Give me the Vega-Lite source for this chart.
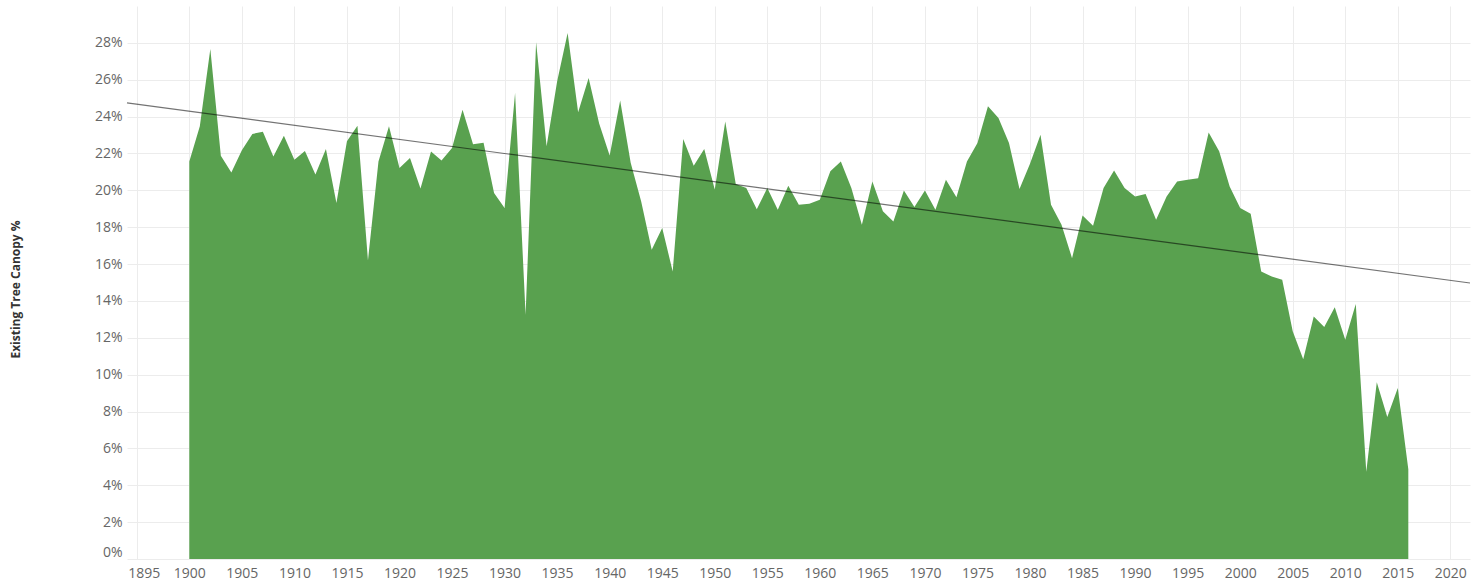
{
  "$schema": "https://vega.github.io/schema/vega-lite/v6.json",
  "width": 1343,
  "height": 553,
  "autosize": {"type": "none"},
  "padding": {"left": 127, "top": 6, "right": 14, "bottom": 24},
  "background": "white",
  "config": {"view": {"stroke": null}, "font": "Open Sans"},
  "data": {
    "values": [
      {"year": 1900, "canopy": 0.2157}, {"year": 1901, "canopy": 0.2347}, {"year": 1902, "canopy": 0.2767},
      {"year": 1903, "canopy": 0.2188}, {"year": 1904, "canopy": 0.2097}, {"year": 1905, "canopy": 0.2217},
      {"year": 1906, "canopy": 0.2306}, {"year": 1907, "canopy": 0.2318}, {"year": 1908, "canopy": 0.2184},
      {"year": 1909, "canopy": 0.2296}, {"year": 1910, "canopy": 0.2166}, {"year": 1911, "canopy": 0.2213},
      {"year": 1912, "canopy": 0.2086}, {"year": 1913, "canopy": 0.2224}, {"year": 1914, "canopy": 0.1931},
      {"year": 1915, "canopy": 0.2266}, {"year": 1916, "canopy": 0.2351}, {"year": 1917, "canopy": 0.162},
      {"year": 1918, "canopy": 0.2157}, {"year": 1919, "canopy": 0.2347}, {"year": 1920, "canopy": 0.2121},
      {"year": 1921, "canopy": 0.2175}, {"year": 1922, "canopy": 0.201}, {"year": 1923, "canopy": 0.2211},
      {"year": 1924, "canopy": 0.2162}, {"year": 1925, "canopy": 0.223}, {"year": 1926, "canopy": 0.2437},
      {"year": 1927, "canopy": 0.225}, {"year": 1928, "canopy": 0.2258}, {"year": 1929, "canopy": 0.1985},
      {"year": 1930, "canopy": 0.1904}, {"year": 1931, "canopy": 0.2528}, {"year": 1932, "canopy": 0.1325},
      {"year": 1933, "canopy": 0.2803}, {"year": 1934, "canopy": 0.2239}, {"year": 1935, "canopy": 0.2591},
      {"year": 1936, "canopy": 0.2854}, {"year": 1937, "canopy": 0.2423}, {"year": 1938, "canopy": 0.261},
      {"year": 1939, "canopy": 0.2362}, {"year": 1940, "canopy": 0.2189}, {"year": 1941, "canopy": 0.2488},
      {"year": 1942, "canopy": 0.215}, {"year": 1943, "canopy": 0.194}, {"year": 1944, "canopy": 0.1678},
      {"year": 1945, "canopy": 0.1795}, {"year": 1946, "canopy": 0.156}, {"year": 1947, "canopy": 0.2278},
      {"year": 1948, "canopy": 0.2133}, {"year": 1949, "canopy": 0.2224}, {"year": 1950, "canopy": 0.2005},
      {"year": 1951, "canopy": 0.2374}, {"year": 1952, "canopy": 0.2035}, {"year": 1953, "canopy": 0.2012},
      {"year": 1954, "canopy": 0.1898}, {"year": 1955, "canopy": 0.2012}, {"year": 1956, "canopy": 0.1895},
      {"year": 1957, "canopy": 0.2025}, {"year": 1958, "canopy": 0.1922}, {"year": 1959, "canopy": 0.1927},
      {"year": 1960, "canopy": 0.1949}, {"year": 1961, "canopy": 0.2103}, {"year": 1962, "canopy": 0.2157},
      {"year": 1963, "canopy": 0.2012}, {"year": 1964, "canopy": 0.1813}, {"year": 1965, "canopy": 0.2048},
      {"year": 1966, "canopy": 0.1886}, {"year": 1967, "canopy": 0.1831}, {"year": 1968, "canopy": 0.1999},
      {"year": 1969, "canopy": 0.1909}, {"year": 1970, "canopy": 0.1999}, {"year": 1971, "canopy": 0.1895},
      {"year": 1972, "canopy": 0.2058}, {"year": 1973, "canopy": 0.1962}, {"year": 1974, "canopy": 0.2157},
      {"year": 1975, "canopy": 0.2257}, {"year": 1976, "canopy": 0.2456}, {"year": 1977, "canopy": 0.2393},
      {"year": 1978, "canopy": 0.2257}, {"year": 1979, "canopy": 0.2007}, {"year": 1980, "canopy": 0.2144},
      {"year": 1981, "canopy": 0.2302}, {"year": 1982, "canopy": 0.1922}, {"year": 1983, "canopy": 0.1813},
      {"year": 1984, "canopy": 0.1632}, {"year": 1985, "canopy": 0.1864}, {"year": 1986, "canopy": 0.1808},
      {"year": 1987, "canopy": 0.2012}, {"year": 1988, "canopy": 0.2108}, {"year": 1989, "canopy": 0.2012},
      {"year": 1990, "canopy": 0.1967}, {"year": 1991, "canopy": 0.198}, {"year": 1992, "canopy": 0.184},
      {"year": 1993, "canopy": 0.1967}, {"year": 1994, "canopy": 0.2048}, {"year": 1995, "canopy": 0.2057},
      {"year": 1996, "canopy": 0.2066}, {"year": 1997, "canopy": 0.2314}, {"year": 1998, "canopy": 0.2212},
      {"year": 1999, "canopy": 0.2021}, {"year": 2000, "canopy": 0.1904}, {"year": 2001, "canopy": 0.1873},
      {"year": 2002, "canopy": 0.156}, {"year": 2003, "canopy": 0.1533}, {"year": 2004, "canopy": 0.1515},
      {"year": 2005, "canopy": 0.1235}, {"year": 2006, "canopy": 0.1084}, {"year": 2007, "canopy": 0.1315},
      {"year": 2008, "canopy": 0.1258}, {"year": 2009, "canopy": 0.1366}, {"year": 2010, "canopy": 0.1189},
      {"year": 2011, "canopy": 0.1384}, {"year": 2012, "canopy": 0.0473}, {"year": 2013, "canopy": 0.0959},
      {"year": 2014, "canopy": 0.0771}, {"year": 2015, "canopy": 0.0928}, {"year": 2016, "canopy": 0.0487}
    ]
  },
  "encoding": {
    "x": {
      "field": "year",
      "type": "quantitative",
      "scale": {"domain": [1894.07, 2021.87], "nice": false, "zero": false},
      "axis": {
        "title": null,
        "values": [1895, 1900, 1905, 1910, 1915, 1920, 1925, 1930, 1935, 1940, 1945, 1950, 1955, 1960, 1965, 1970, 1975, 1980, 1985, 1990, 1995, 2000, 2005, 2010, 2015, 2020],
        "format": "d",
        "grid": true,
        "gridColor": "#ececec",
        "gridWidth": 1,
        "domain": false,
        "ticks": false,
        "labelOverlap": false,
        "labelBound": false,
        "labelPadding": 7,
        "labelFontSize": 14,
        "labelColor": "#666666",
        "labelOffset": {"condition": {"test": "datum.value == 1895", "value": 7}, "value": 0}
      }
    },
    "y": {
      "field": "canopy",
      "type": "quantitative",
      "scale": {"domain": [0, 0.3], "nice": false},
      "axis": {
        "title": "Existing Tree Canopy %",
        "titleFontSize": 12,
        "titleFontWeight": "bold",
        "titleColor": "#333333",
        "titleAngle": -90,
        "titleX": -112,
        "titleY": 283,
        "titleAlign": "center",
        "titleBaseline": "middle",
        "values": [0, 0.02, 0.04, 0.06, 0.08, 0.1, 0.12, 0.14, 0.16, 0.18, 0.2, 0.22, 0.24, 0.26, 0.28],
        "tickCount": 15,
        "format": ".0%",
        "grid": true,
        "gridColor": "#ececec",
        "gridWidth": 1,
        "domain": false,
        "ticks": false,
        "labelOverlap": false,
        "labelBound": false,
        "labelPadding": 5,
        "labelFontSize": 14,
        "labelColor": "#666666",
        "labelBaseline": {"condition": {"test": "datum.value == 0", "value": "bottom"}, "value": "middle"}
      }
    }
  },
  "layer": [
    {
      "mark": {"type": "area", "color": "#59a14f", "opacity": 1}
    },
    {
      "transform": [{"regression": "canopy", "on": "year", "extent": [1894.07, 2021.87]}],
      "mark": {"type": "line", "color": "#000000", "strokeWidth": 1.2, "opacity": 0.55}
    }
  ]
}
